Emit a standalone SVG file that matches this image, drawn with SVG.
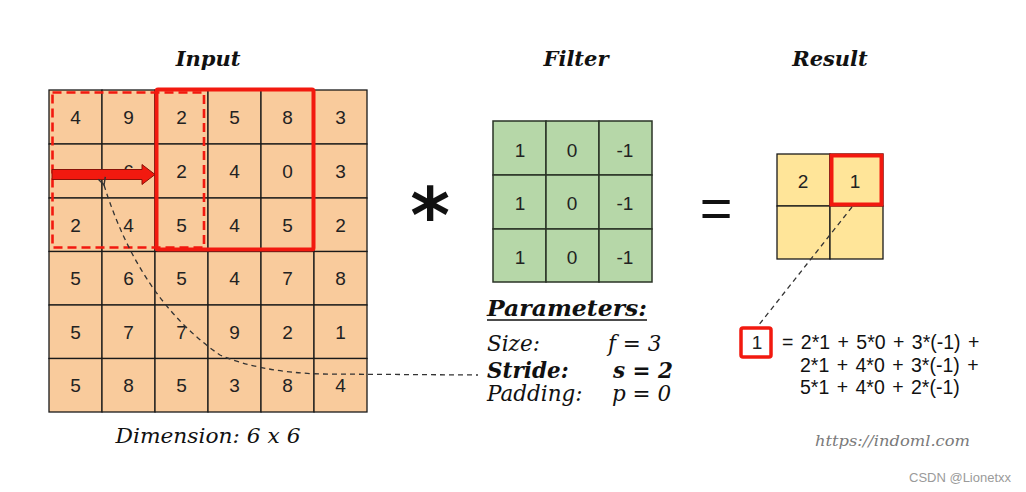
<svg xmlns="http://www.w3.org/2000/svg" width="1026" height="492" viewBox="0 0 1026 492">
<style>
.title{font-family:"DejaVu Serif","Liberation Serif",serif;font-weight:bold;font-style:italic;font-size:21px;fill:#111;text-anchor:middle}
.num{font-family:"Liberation Sans",Arial,sans-serif;font-size:19px;fill:#222;text-anchor:middle}
.in{fill:#f9cb9c;stroke:#1a1a1a;stroke-width:1.3}
.fl{fill:#b6d7a8;stroke:#2a3326;stroke-width:1.5}
.rs{fill:#ffe599;stroke:#1a1a1a;stroke-width:1.3}
.par{font-family:"DejaVu Serif","Liberation Serif",serif;font-style:italic;font-size:21.5px;fill:#111}
.bold{font-weight:bold}
.frm{font-family:"Liberation Sans",Arial,sans-serif;font-size:19.5px;fill:#111;word-spacing:2px}
.dash{fill:none;stroke:#333;stroke-width:1.3;stroke-dasharray:5 4}
</style>
<defs>
<marker id="ah" viewBox="0 0 10 10" refX="1" refY="5" markerWidth="7" markerHeight="7" orient="auto-start-reverse">
<path d="M9,1 L1,5 L9,9" fill="none" stroke="#333" stroke-width="1.6"/>
</marker>
</defs>
<rect width="1026" height="492" fill="#fff"/>

<g id="titles">
<text class="title" x="208" y="66">Input</text>
<text class="title" x="576" y="66">Filter</text>
<text class="title" x="830" y="66">Result</text>
</g>

<g id="input">
<g>
<rect class="in" x="49" y="90" width="53" height="54"/><rect class="in" x="102" y="90" width="53" height="54"/><rect class="in" x="155" y="90" width="53" height="54"/><rect class="in" x="208" y="90" width="53" height="54"/><rect class="in" x="261" y="90" width="53" height="54"/><rect class="in" x="314" y="90" width="53" height="54"/>
<rect class="in" x="49" y="144" width="53" height="54"/><rect class="in" x="102" y="144" width="53" height="54"/><rect class="in" x="155" y="144" width="53" height="54"/><rect class="in" x="208" y="144" width="53" height="54"/><rect class="in" x="261" y="144" width="53" height="54"/><rect class="in" x="314" y="144" width="53" height="54"/>
<rect class="in" x="49" y="198" width="53" height="53.5"/><rect class="in" x="102" y="198" width="53" height="53.5"/><rect class="in" x="155" y="198" width="53" height="53.5"/><rect class="in" x="208" y="198" width="53" height="53.5"/><rect class="in" x="261" y="198" width="53" height="53.5"/><rect class="in" x="314" y="198" width="53" height="53.5"/>
<rect class="in" x="49" y="251.5" width="53" height="53.5"/><rect class="in" x="102" y="251.5" width="53" height="53.5"/><rect class="in" x="155" y="251.5" width="53" height="53.5"/><rect class="in" x="208" y="251.5" width="53" height="53.5"/><rect class="in" x="261" y="251.5" width="53" height="53.5"/><rect class="in" x="314" y="251.5" width="53" height="53.5"/>
<rect class="in" x="49" y="305" width="53" height="53.5"/><rect class="in" x="102" y="305" width="53" height="53.5"/><rect class="in" x="155" y="305" width="53" height="53.5"/><rect class="in" x="208" y="305" width="53" height="53.5"/><rect class="in" x="261" y="305" width="53" height="53.5"/><rect class="in" x="314" y="305" width="53" height="53.5"/>
<rect class="in" x="49" y="358.5" width="53" height="53.5"/><rect class="in" x="102" y="358.5" width="53" height="53.5"/><rect class="in" x="155" y="358.5" width="53" height="53.5"/><rect class="in" x="208" y="358.5" width="53" height="53.5"/><rect class="in" x="261" y="358.5" width="53" height="53.5"/><rect class="in" x="314" y="358.5" width="53" height="53.5"/>
</g>
<g class="num">
<text x="75.5" y="124">4</text><text x="128.5" y="124">9</text><text x="181.5" y="124">2</text><text x="234.5" y="124">5</text><text x="287.5" y="124">8</text><text x="340.5" y="124">3</text>
<text x="128.5" y="178">6</text><text x="181.5" y="178">2</text><text x="234.5" y="178">4</text><text x="287.5" y="178">0</text><text x="340.5" y="178">3</text>
<text x="75.5" y="232">2</text><text x="128.5" y="232">4</text><text x="181.5" y="232">5</text><text x="234.5" y="232">4</text><text x="287.5" y="232">5</text><text x="340.5" y="232">2</text>
<text x="75.5" y="285">5</text><text x="128.5" y="285">6</text><text x="181.5" y="285">5</text><text x="234.5" y="285">4</text><text x="287.5" y="285">7</text><text x="340.5" y="285">8</text>
<text x="75.5" y="339">5</text><text x="128.5" y="339">7</text><text x="181.5" y="339">7</text><text x="234.5" y="339">9</text><text x="287.5" y="339">2</text><text x="340.5" y="339">1</text>
<text x="75.5" y="392">5</text><text x="128.5" y="392">8</text><text x="181.5" y="392">5</text><text x="234.5" y="392">3</text><text x="287.5" y="392">8</text><text x="340.5" y="392">4</text>
</g>
<rect x="52.5" y="92.5" width="151.5" height="155" fill="none" stroke="#f2190f" stroke-width="2.6" stroke-dasharray="9 5"/>
<rect x="156.5" y="89.5" width="157" height="160" rx="1.5" fill="none" stroke="#f2190f" stroke-width="4"/>
<path d="M52,169.5 L142,169.5 L142,164.5 L155,174.5 L142,184.5 L142,179.5 L52,179.5 Z" fill="#f2190f" stroke="#8a1208" stroke-width="1"/>
<text x="208" y="443" font-family="'DejaVu Serif','Liberation Serif',serif" font-style="italic" font-size="21" fill="#111" text-anchor="middle" textLength="185" lengthAdjust="spacingAndGlyphs">Dimension: 6 x 6</text>
</g>

<g id="operators">
<text x="430" y="242" font-family="'DejaVu Sans',sans-serif" font-weight="bold" font-size="76" fill="#111" text-anchor="middle">*</text>
<text x="716" y="227" font-family="'Liberation Sans',Arial,sans-serif" font-size="56" fill="#111" text-anchor="middle">=</text>
</g>

<g id="filter">
<rect class="fl" x="493" y="121" width="53" height="54"/><rect class="fl" x="546" y="121" width="53" height="54"/><rect class="fl" x="599" y="121" width="53" height="54"/>
<rect class="fl" x="493" y="175" width="53" height="54"/><rect class="fl" x="546" y="175" width="53" height="54"/><rect class="fl" x="599" y="175" width="53" height="54"/>
<rect class="fl" x="493" y="229" width="53" height="53"/><rect class="fl" x="546" y="229" width="53" height="53"/><rect class="fl" x="599" y="229" width="53" height="53"/>
<g class="num">
<text x="520" y="157">1</text><text x="572" y="157">0</text><text x="625" y="157">-1</text>
<text x="520" y="210">1</text><text x="572" y="210">0</text><text x="625" y="210">-1</text>
<text x="520" y="264">1</text><text x="572" y="264">0</text><text x="625" y="264">-1</text>
</g>
</g>

<g id="parameters">
<text class="par bold" x="487" y="316" font-size="22" textLength="160" lengthAdjust="spacingAndGlyphs">Parameters:</text>
<line x1="487" y1="320" x2="647" y2="320" stroke="#111" stroke-width="1.6"/>
<text class="par" x="487" y="351">Size:</text>
<text class="par" x="608" y="351">f = 3</text>
<text class="par bold" x="487" y="378">Stride:</text>
<text class="par bold" x="613" y="378">s = 2</text>
<text class="par" x="487" y="401">Padding:</text>
<text class="par" x="612" y="401">p = 0</text>
</g>

<g id="result">
<rect class="rs" x="777" y="154" width="53" height="52"/><rect class="rs" x="830" y="154" width="53" height="52"/>
<rect class="rs" x="777" y="206" width="53" height="53"/><rect class="rs" x="830" y="206" width="53" height="53"/>
<text class="num" x="803" y="188">2</text><text class="num" x="855" y="188">1</text>
<rect x="831.5" y="155.5" width="50" height="49" fill="none" stroke="#f2190f" stroke-width="4"/>
</g>

<g id="formula">
<rect x="741" y="328" width="30" height="29" rx="2" fill="#fff" stroke="#f2190f" stroke-width="3.5"/>
<text class="num" x="757" y="349">1</text>
<text class="frm" x="782" y="349">= 2*1 + 5*0 + 3*(-1) +</text>
<text class="frm" x="800" y="372">2*1 + 4*0 + 3*(-1) +</text>
<text class="frm" x="800" y="394">5*1 + 4*0 + 2*(-1)</text>
</g>

<g id="connectors">
<path class="dash" d="M104,185 Q140,300 220,355 Q260,372 320,374 L478,375" marker-start="url(#ah)"/>
<line class="dash" x1="852" y1="207" x2="758" y2="326"/>
</g>

<g id="credits">
<text x="815" y="446" font-family="'DejaVu Serif','Liberation Serif',serif" font-style="italic" font-size="15" fill="#7a7a7a" textLength="155" lengthAdjust="spacingAndGlyphs">https://indoml.com</text>
<text x="909" y="482" font-family="'Liberation Sans',Arial,sans-serif" font-size="13" fill="#9a9a9a">CSDN @Lionetxx</text>
</g>
</svg>
